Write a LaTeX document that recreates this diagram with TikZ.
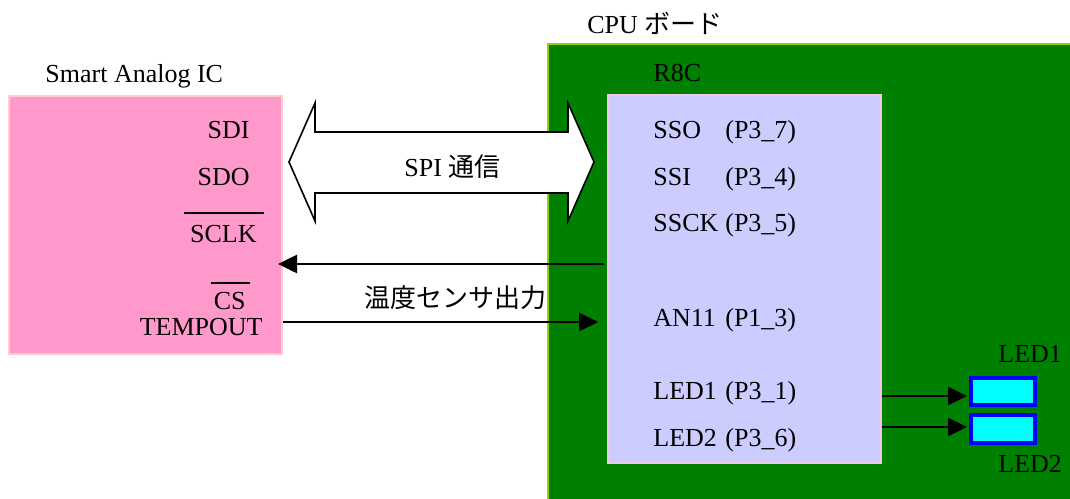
\documentclass[tikz,border=0pt]{standalone}
\usepackage{fontspec}
\setmainfont{Liberation Serif}
\newfontfamily\labelfont{Liberation Serif}
\newfontfamily\jpfont{Noto Sans CJK JP}
\usetikzlibrary{arrows.meta}
\definecolor{icpink}{HTML}{FF99CC}
\definecolor{icedge}{HTML}{FFCCCC}
\definecolor{boardgreen}{HTML}{008000}
\definecolor{boardedge}{HTML}{99CC00}
\definecolor{chipfill}{HTML}{CCCCFF}
\definecolor{chipedge}{HTML}{F0C8E8}
\definecolor{ledfill}{HTML}{00FFFF}
\definecolor{lededge}{HTML}{0000FF}
\tikzset{
  sabox/.style={draw=icedge,fill=icpink,line width=1pt},
  board/.style={draw=boardedge,fill=boardgreen,line width=0.8pt},
  chipbox/.style={draw=chipedge,fill=chipfill,line width=0.8pt},
  ledbox/.style={draw=lededge,fill=ledfill,line width=2pt},
  sig/.style={-{Triangle[length=9.5pt,width=9pt]},line width=1.3pt},
  pin/.style={anchor=base west},
  lpin/.style={anchor=base east}
}
\begin{document}
\begin{tikzpicture}[x=0.5pt,y=-0.5pt,
  every node/.style={inner sep=0pt,font=\labelfont\fontsize{13}{15.6}\selectfont}]
\useasboundingbox (0,0) rectangle (1070,498);
\clip (0,0) rectangle (1070,498);
\node[board,anchor=north west,minimum width=264pt,minimum height=230pt] (cpu) at (547,43) {};
\node[sabox,minimum width=136.5pt,minimum height=129pt] (sai) at (145.5,225) {};
\node[chipbox,minimum width=136.5pt,minimum height=184pt] (r8c) at (744.5,279) {};
\node[ledbox,minimum width=32pt,minimum height=13.5pt] (led1) at (1003,391.5) {};
\node[ledbox,minimum width=32pt,minimum height=14pt] (led2) at (1003,429) {};
\node[pin] (sainame) at (45,82) {Smart Analog IC};
\node[pin] (cpuname) at (587,33) {CPU {\jpfont ボード}};
\node[pin] (r8cname) at (653,81) {R8C};
\node[lpin] (sdi) at (250,138) {SDI};
\node[lpin] (sdo) at (250,185) {SDO};
\node[lpin] (sclk) at (257,242) {SCLK};
\node[lpin] (cs) at (246,309) {CS};
\node[lpin] (tempout) at (263,335) {TEMPOUT};
\draw[line width=0.6pt] (184,213) -- (264,213);
\draw[line width=0.6pt] (211,283) -- (250,283);
\node[pin] (sso) at (653,138) {\makebox[36pt][l]{SSO}(P3\_7)};
\node[pin] (ssi) at (653,185) {\makebox[36pt][l]{SSI}(P3\_4)};
\node[pin] (ssck) at (653,231) {\makebox[36pt][l]{SSCK}(P3\_5)};
\node[pin] (an11) at (653,326) {\makebox[36pt][l]{AN11}(P1\_3)};
\node[pin] (p31) at (653,399) {\makebox[36pt][l]{LED1}(P3\_1)};
\node[pin] (p36) at (653,446) {\makebox[36pt][l]{LED2}(P3\_6)};
\node[pin] (led1name) at (998,362) {LED1};
\node[pin] (led2name) at (998,472) {LED2};
\draw[fill=white,line width=0.8pt] (289,162) -- (315,103) -- (315,132) -- (568,132) -- (568,103)
  -- (594,162) -- (568,221) -- (568,193) -- (315,193) -- (315,221) -- cycle;
\node[pin] (spi) at (404,176) {SPI {\jpfont 通信}};
\node[pin] (tsens) at (364,307) {\jpfont 温度センサ出力};
\coordinate (clk) at (604,264);
\draw[sig] (clk) -- ([xshift=-2.5pt]sai.east |- clk);
\coordinate (tout) at (sai.east |- 0,322);
\draw[sig] (tout) -- ([xshift=-4.5pt]r8c.west |- tout);
\coordinate (out1) at (r8c.east |- 0,396);
\coordinate (out2) at (r8c.east |- 0,427);
\draw[sig,shorten >=1pt] (out1) -- (led1.west |- out1);
\draw[sig,shorten >=1pt] (out2) -- (led2.west |- out2);
\end{tikzpicture}
\end{document}
